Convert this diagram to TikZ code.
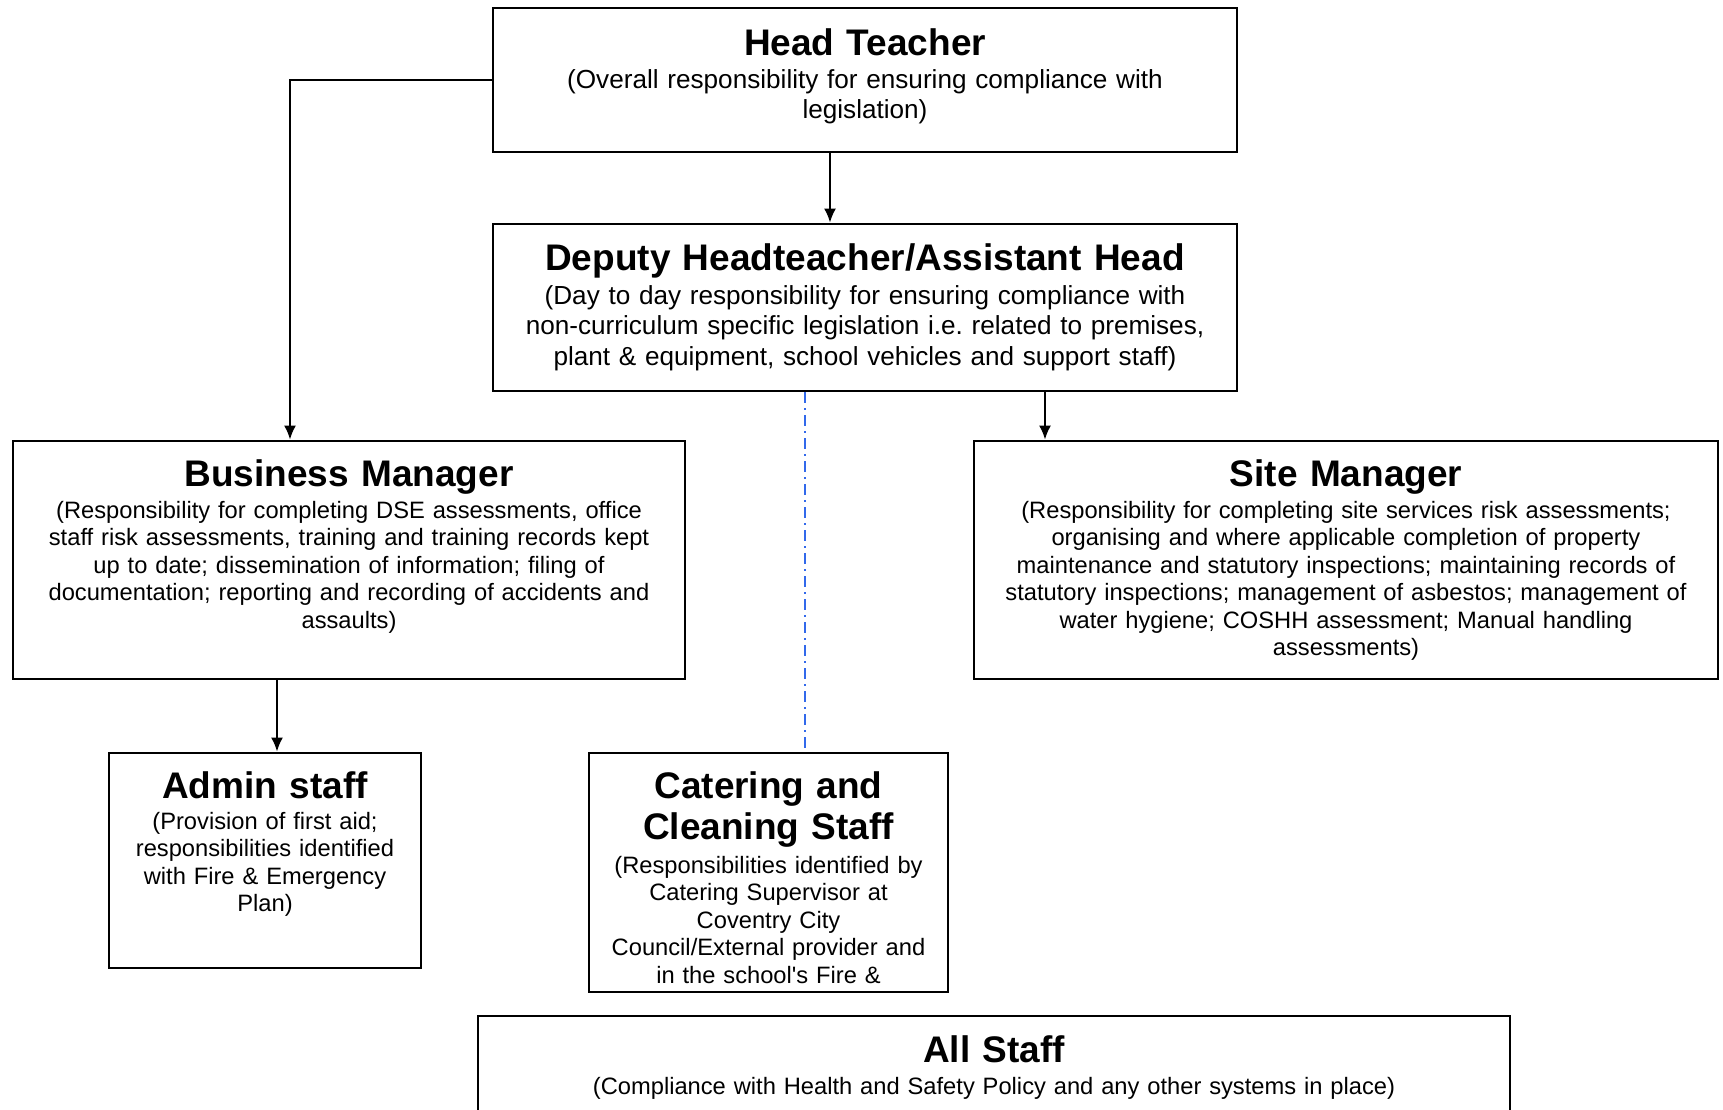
\documentclass[tikz,border=0pt]{standalone}
\usepackage{fontspec}
\setmainfont{Liberation Sans}
\usetikzlibrary{arrows.meta,fit}
\begin{document}
\begin{tikzpicture}[x=0.5pt,y=-0.5pt,
  box/.style={draw, line width=1.4pt, inner sep=0pt, fit={#1}},
  ttl/.style={anchor=base, align=center, text width=340pt, inner sep=0pt, font=\bfseries\fontsize{18.5}{20.9}\selectfont},
  bigtxt/.style={anchor=base, align=center, text width=360pt, inner sep=0pt, font=\fontsize{13.07}{15.4}\selectfont},
  smalltxt/.style={anchor=base, align=center, text width=400pt, inner sep=0pt, font=\fontsize{11.85}{13.75}\selectfont},
  arr/.style={line width=1pt, -{Latex[length=7pt,width=6pt]}},
  dotline/.style={line width=1pt, draw={rgb,255:red,50;green,105;blue,235}, dash pattern=on 5.5pt off 2.5pt on 1pt off 2.5pt}
]
\clip (0,0) rectangle (1723,1109);
\fill[white] (0,0) rectangle (1723,1109);

\node[box={(493,8) (1237,152)}] (ht) {};
\node[box={(493,224) (1237,391)}] (dh) {};
\node[box={(13,441) (685,679)}] (bm) {};
\node[box={(974,441) (1718,679)}] (sm) {};
\node[box={(109,753) (421,968)}] (ad) {};
\node[box={(589,753) (948,992)}] (cc) {};
\node[box={(478,1016) (1510,1140)}] (as) {};

\node[ttl] (htt) at (865,55) {Head Teacher};
\node[bigtxt] (htb) at (865,88) {(Overall responsibility for ensuring compliance with\\legislation)};

\node[ttl] (dht) at (865,270) {Deputy Headteacher/Assistant Head};
\node[bigtxt] (dhb) at (865,304) {(Day to day responsibility for ensuring compliance with\\non-curriculum specific legislation i.e.\ related to premises,\\plant \& equipment, school vehicles and support staff)};

\node[ttl] (bmt) at (349,486) {Business Manager};
\node[smalltxt] (bmb) at (349,518) {(Responsibility for completing DSE assessments, office\\staff risk assessments, training and training records kept\\up to date; dissemination of information; filing of\\documentation; reporting and recording of accidents and\\assaults)};

\node[ttl] (smt) at (1346,486) {Site Manager};
\node[smalltxt] (smb) at (1346,518) {(Responsibility for completing site services risk assessments;\\organising and where applicable completion of property\\maintenance and statutory inspections; maintaining records of\\statutory inspections; management of asbestos; management of\\water hygiene; COSHH assessment; Manual handling\\assessments)};

\node[ttl] (adt) at (265,798) {Admin staff};
\node[smalltxt] (adb) at (265,829) {(Provision of first aid;\\responsibilities identified\\with Fire \& Emergency\\Plan)};

\node[ttl] (cct) at (768.5,798) {Catering and\\Cleaning Staff};
\node[smalltxt] (ccb) at (768.5,873) {(Responsibilities identified by\\Catering Supervisor at\\Coventry City\\Council/External provider and\\in the school\textquotesingle s Fire \&};

\node[ttl] (ast) at (994,1062) {All Staff};
\node[smalltxt, text width=500pt] (asb) at (994,1094) {(Compliance with Health and Safety Policy and any other systems in place)};

\draw[arr] (ht.west) -| ([xshift=-29.5pt]bm.north);
\draw[arr] ([xshift=-17.5pt]ht.south) -- ([xshift=-17.5pt]dh.north);
\draw[arr] ([xshift=90pt]dh.south) -- ([xshift=90pt]dh.south |- sm.north);
\draw[arr] ([xshift=-36pt]bm.south) -- ([xshift=-36pt]bm.south |- ad.north);
\draw[dotline] ([xshift=-30pt]dh.south) -- ([xshift=-30pt]dh.south |- cc.north);
\end{tikzpicture}
\end{document}
